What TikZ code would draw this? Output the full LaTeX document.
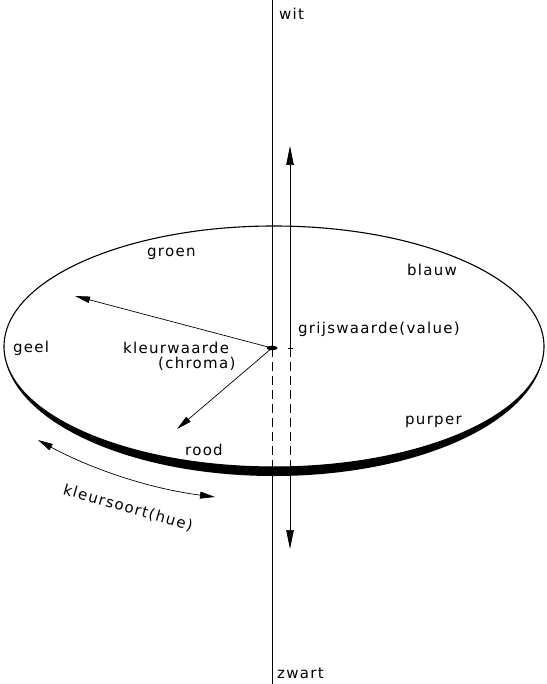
\documentclass[tikz,border=0pt]{standalone}
\usepackage{fontspec}
\setmainfont{DejaVu Sans}[LetterSpace=8.5]
\usetikzlibrary{arrows.meta}
\begin{document}
\begin{tikzpicture}[x=1pt,y=-1pt,
  lbl/.style={inner sep=0pt,anchor=base west,font=\fontsize{15}{18}\selectfont},
  thinline/.style={line width=0.7pt},
  dashline/.style={line width=0.7pt,dash pattern=on 9pt off 5pt},
  bighead/.style={-{Triangle[length=19pt,width=7.5pt]}},
  chhead/.style={-{Triangle[length=15pt,width=6.5pt]}},
  huehead/.style={{Triangle[length=15pt,width=7pt]}-{Triangle[length=15pt,width=7pt]}}]
\useasboundingbox (0,0) rectangle (546,684);
% coordinates
\coordinate (T) at (272,0);
\coordinate (B) at (272,684);
\coordinate (C) at (272,348);
\coordinate (Cb) at (272,468);
\coordinate (V) at (290,348);
\coordinate (Vb) at (290,468);
\coordinate (Vtop) at (290,146);
\coordinate (Vbot) at (290,549);
\coordinate (ch1) at (75,296);
\coordinate (ch2) at (177,429);
\coordinate (h1) at (38,440);
\coordinate (h2) at (215,497);
% disc
\draw[line width=1.1pt] (274,346.5) ellipse [x radius=270, y radius=120.5];
\fill (4,346.5) arc[start angle=180, end angle=0, x radius=270, y radius=129.5]
  arc[start angle=0, end angle=180, x radius=270, y radius=120.5] -- cycle;
% main axis
\draw[thinline] (T) -- (C);
\draw[dashline] (C) -- (Cb);
\draw[thinline] (Cb) -- (B);
% value axis
\draw[thinline,bighead] (V) -- (Vtop);
\draw[dashline] (V) -- (Vb);
\draw[thinline,bighead] (Vb) -- (Vbot);
\draw[line width=0.8pt] (287.5,348) -- (292.5,348);
% chroma arrows
\draw[thinline,chhead] (C) -- (ch1);
\draw[thinline,chhead] (C) -- (ch2);
\fill (C) ellipse [x radius=5.5, y radius=2.3];
% hue arrow
\draw[thinline,huehead] (h1) .. controls (93,470) and (152,489) .. (h2);
% labels
\node[lbl] (wit) at (279,20) {wit};
\node[lbl] (zwart) at (277,678) {zwart};
\node[lbl] (groen) at (147,256) {groen};
\node[lbl] (blauw) at (407,275) {blauw};
\node[lbl] (geel) at (13,352) {geel};
\node[lbl] (kw) at (123,353) {kleurwaarde};
\node[lbl] (chroma) at (158,368) {(chroma)};
\node[lbl] (gw) at (298,333) {grijswaarde(value)};
\node[lbl] (rood) at (185,455) {rood};
\node[lbl] (purper) at (405,424) {purper};
\node[inner sep=0pt,font=\fontsize{15}{18}\selectfont,rotate=-16] (hue) at (128,508) {kleursoort(hue)};
\end{tikzpicture}
\end{document}
